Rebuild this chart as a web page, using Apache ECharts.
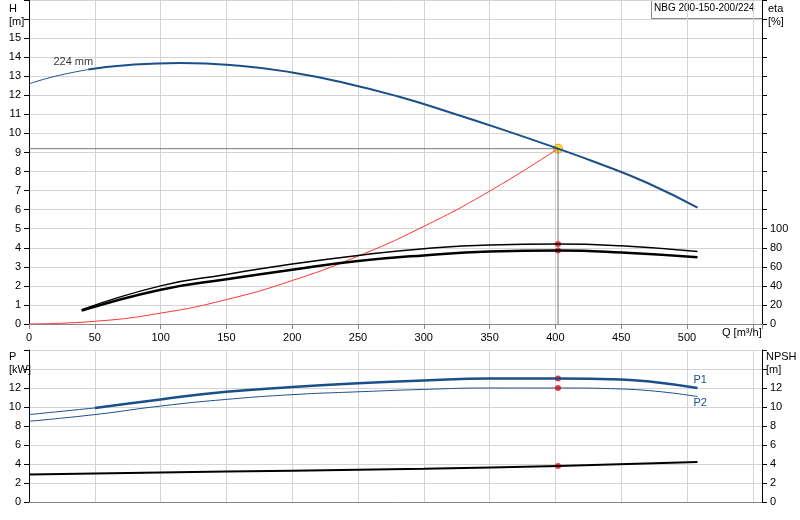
<!DOCTYPE html><html><head><meta charset="utf-8"><script src="https://cdn.jsdelivr.net/npm/echarts@6/dist/echarts.min.js"></script>
<style>body{margin:0}#c{width:800px;height:520px}</style></head><body><div id="c"></div><script>
const headThin=[[0,12.6],[20,13.0],[45,13.35]];
const head=[[45,13.35],[80,13.62],[115,13.7],[160,13.55],[200,13.2],[240,12.65],[280,11.95],[320,11.1],[360,10.2],[402,9.2],[430,8.5],[470,7.4],[508,6.1]];
const eta1=[[40,15],[100,40],[150,52],[200,63],[250,72],[300,79],[350,83],[402,84],[450,82],[508,76]];
const eta2=[[40,14],[100,36],[150,47],[200,57],[250,66],[300,72],[350,76],[402,77],[450,75],[508,70]];
const system=[[0,0],[50,0.14],[100,0.57],[150,1.28],[200,2.28],[250,3.56],[300,5.12],[350,6.97],[402,9.2]];
const p1Thin=[[0,9.2],[50,9.9]];
const p1=[[50,9.9],[100,10.8],[150,11.6],[200,12.1],[250,12.5],[300,12.8],[350,13.0],[402,13.0],[450,12.9],[470,12.7],[508,12.0]];
const p2=[[0,8.5],[50,9.2],[100,10.1],[150,10.8],[200,11.3],[250,11.6],[300,11.85],[350,12.0],[402,12.0],[450,11.9],[508,11.1]];
const npsh=[[0,2.9],[100,3.1],[200,3.3],[300,3.5],[402,3.8],[508,4.2]];
const dutyQ=402, dutyH=9.2;
const ax={fontSize:11,color:'#000',fontFamily:'Liberation Sans'};
const gl={show:true,lineStyle:{color:'#d4d4d4'}};
const xa=(i,labels)=>({type:'value',gridIndex:i,min:0,max:557,interval:50,
 axisLine:{onZero:false,lineStyle:{color:'#888'}},axisTick:{show:labels,lineStyle:{color:'#888'}},splitLine:gl,
 axisLabel:{show:labels,...ax,formatter:v=>v>=550?'':v}});
const blue='#1a4f8a';
const c=echarts.init(document.getElementById('c'));
c.setOption({animation:false,
grid:[{left:29,right:38,top:0,bottom:196},{left:29,right:38,top:350,bottom:18}],
xAxis:[xa(0,true),xa(1,false)],
yAxis:[
 {type:'value',gridIndex:0,min:0,max:17,interval:1,axisLine:{show:true,lineStyle:{color:'#000'}},axisTick:{lineStyle:{color:'#000'}},splitLine:gl,axisLabel:{...ax,formatter:v=>v>15?'':v}},
 {type:'value',gridIndex:0,min:0,max:340,interval:20,position:'right',axisLine:{show:true,lineStyle:{color:'#000'}},axisTick:{lineStyle:{color:'#000'}},splitLine:{show:false},axisLabel:{...ax,formatter:v=>v>100?'':v}},
 {type:'value',gridIndex:1,min:0,max:16,interval:2,axisLine:{show:true,lineStyle:{color:'#000'}},axisTick:{lineStyle:{color:'#000'}},splitLine:gl,axisLabel:{...ax,formatter:v=>v>12?'':v}},
 {type:'value',gridIndex:1,min:0,max:16,interval:2,position:'right',axisLine:{show:true,lineStyle:{color:'#000'}},axisTick:{lineStyle:{color:'#000'}},splitLine:{show:false},axisLabel:{...ax,formatter:v=>v>12?'':v}}
],
graphic:[
 {type:'text',left:9,top:2,style:{text:'H\n[m]',fill:'#000',font:'11px Liberation Sans',align:'center',lineHeight:13}},
 {type:'text',left:768,top:2,style:{text:'eta\n[%]',fill:'#000',font:'11px Liberation Sans',lineHeight:13}},
 {type:'text',left:722,top:327,style:{text:'Q [m³/h]',fill:'#000',font:'11px Liberation Sans'}},
 {type:'text',left:9,top:350,style:{text:'P\n[kW]',fill:'#000',font:'11px Liberation Sans',lineHeight:13}},
 {type:'text',left:766,top:350,style:{text:'NPSH\n[m]',fill:'#000',font:'11px Liberation Sans',lineHeight:13,align:'left'}},
 {type:'rect',left:651,top:0,shape:{width:111,height:18},style:{fill:'#fff',stroke:'#888'}},
 {type:'text',left:654,top:3,style:{text:'NBG 200-150-200/224',fill:'#000',font:'10px Liberation Sans'}}
],
series:[
 {type:'line',xAxisIndex:0,yAxisIndex:0,data:[[0,dutyH],[dutyQ,dutyH],[dutyQ,0]],symbol:'none',lineStyle:{color:'#777',width:1}},
 {type:'line',xAxisIndex:0,yAxisIndex:0,data:system,smooth:true,symbol:'none',lineStyle:{color:'#f33',width:1}},
 {type:'line',xAxisIndex:0,yAxisIndex:0,data:headThin,smooth:true,symbol:'none',lineStyle:{color:blue,width:1}},
 {type:'line',xAxisIndex:0,yAxisIndex:0,data:head,smooth:true,symbol:'none',lineStyle:{color:blue,width:2}},
 {type:'scatter',xAxisIndex:0,yAxisIndex:0,data:[[20,13.1]],symbolSize:0,label:{show:true,formatter:'224 mm',position:'top',color:'#000',fontSize:11,fontFamily:'Liberation Sans',offset:[18,-2]}},
 {type:'line',xAxisIndex:0,yAxisIndex:1,data:eta1,smooth:true,symbol:'none',lineStyle:{color:'#000',width:1.5}},
 {type:'line',xAxisIndex:0,yAxisIndex:1,data:eta2,smooth:true,symbol:'none',lineStyle:{color:'#000',width:2.5}},
 {type:'scatter',xAxisIndex:0,yAxisIndex:1,data:[[dutyQ,84],[dutyQ,77]],symbolSize:6,itemStyle:{color:'#f00'}},
 {type:'scatter',xAxisIndex:0,yAxisIndex:0,data:[[dutyQ,dutyH]],symbolSize:9,itemStyle:{color:'#ffd700',borderColor:'#e80',borderWidth:1}},
 {type:'line',xAxisIndex:1,yAxisIndex:2,data:p1Thin,smooth:true,symbol:'none',lineStyle:{color:blue,width:1}},
 {type:'line',xAxisIndex:1,yAxisIndex:2,data:p1,smooth:true,symbol:'none',lineStyle:{color:blue,width:2.5},endLabel:{show:true,formatter:'P1',color:blue,fontSize:11,offset:[-12,-8]}},
 {type:'line',xAxisIndex:1,yAxisIndex:2,data:p2,smooth:true,symbol:'none',lineStyle:{color:blue,width:1},endLabel:{show:true,formatter:'P2',color:blue,fontSize:11,offset:[-12,6]}},
 {type:'line',xAxisIndex:1,yAxisIndex:3,data:npsh,smooth:true,symbol:'none',lineStyle:{color:'#000',width:2}},
 {type:'scatter',xAxisIndex:1,yAxisIndex:2,data:[[dutyQ,13.0],[dutyQ,12.0],[dutyQ,3.8]],symbolSize:6,itemStyle:{color:'#f00'}}
]});
</script></body></html>
